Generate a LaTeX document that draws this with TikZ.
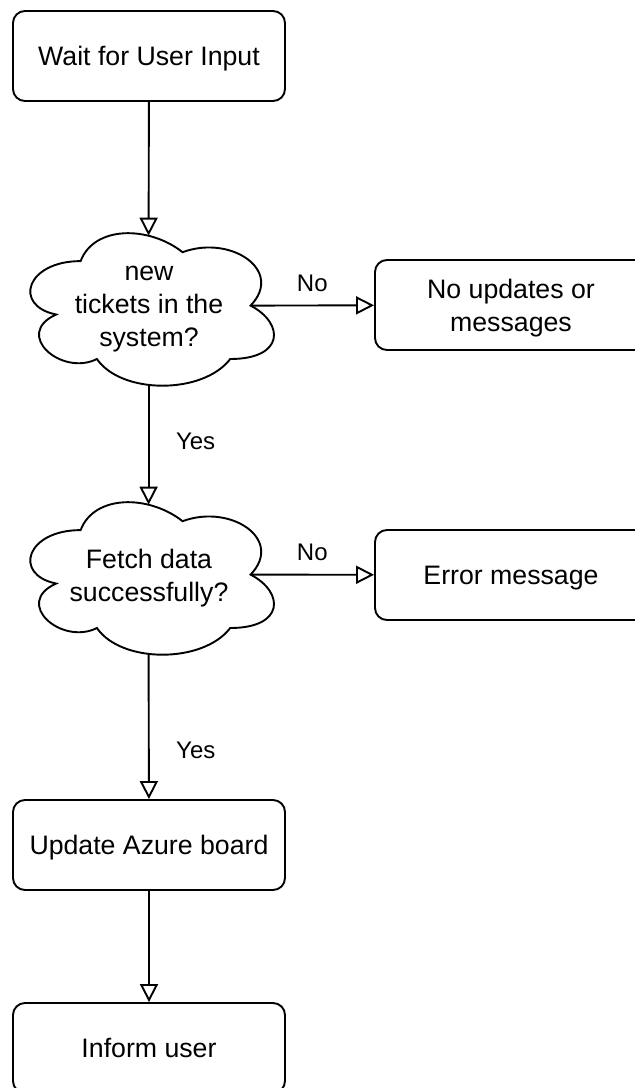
\documentclass[tikz,border=0pt]{standalone}
\usepackage{fontspec}
\setmainfont{Liberation Sans}
\usetikzlibrary{arrows.meta}
\newcommand{\drawcloud}[1]{%
\begin{scope}[shift={(#1.north west)}, x=136pt, y=-89pt]
\draw[line width=0.95pt] (0.25,0.25) .. controls (0.05,0.25) and (0,0.5) .. (0.16,0.55)
 .. controls (0,0.66) and (0.18,0.9) .. (0.31,0.8)
 .. controls (0.4,1) and (0.7,1) .. (0.8,0.8)
 .. controls (1,0.8) and (1,0.6) .. (0.875,0.5)
 .. controls (1,0.3) and (0.8,0.1) .. (0.625,0.2)
 .. controls (0.5,0.05) and (0.3,0.05) .. (0.25,0.25) -- cycle;
\coordinate (#1-top) at (0.5,0.107);
\coordinate (#1-bot) at (0.5,0.95);
\coordinate (#1-right) at (0.875,0.5);
\end{scope}}
\begin{document}
\begin{tikzpicture}[x=0.5pt,y=-0.5pt,
  box/.style={draw, rounded corners=6pt, line width=0.95pt, minimum width=136pt, minimum height=45pt, align=center, inner sep=0pt, text depth=0pt, font=\fontsize{13.35}{16.5}\selectfont},
  qtext/.style={align=center, minimum width=136pt, minimum height=89pt, inner sep=0pt, text depth=0pt, font=\fontsize{13.35}{16.5}\selectfont},
  conn/.style={draw, line width=0.95pt, -{Triangle[open, length=9pt, width=9pt]}},
  lbl/.style={font=\fontsize{12}{14}\selectfont}]
\useasboundingbox (0,0) rectangle (635,1088);
\fill[white] (0,0) rectangle (635,1088);
\clip (0,0) rectangle (635,1088);

\node[box] (wait) at (149,56) {Wait for User Input};
\node[qtext] (q1) at (149,306) {new\\tickets in the\\system?};
\drawcloud{q1}
\node[box] (noupd) at (511,305) {No updates or\\messages};
\node[qtext] (q2) at (149,575) {Fetch data\\successfully?};
\drawcloud{q2}
\node[box] (err) at (511,575) {Error message};
\node[box] (upd) at (149,845) {Update Azure board};
\node[box] (inform) at (149,1048) {Inform user};

\draw[conn] (wait) -- (q1-top);
\draw[conn] (q1-right) -- (noupd) node[lbl, midway, yshift=11pt] {No};
\draw[conn] (q1-bot) -- (q2-top) node[lbl, pos=0.47, xshift=23.5pt] {Yes};
\draw[conn] (q2-right) -- (err) node[lbl, midway, yshift=11pt] {No};
\draw[conn] (q2-bot) -- (upd) node[lbl, pos=0.66, xshift=23.5pt] {Yes};
\draw[conn] (upd) -- (inform);
\end{tikzpicture}
\end{document}
